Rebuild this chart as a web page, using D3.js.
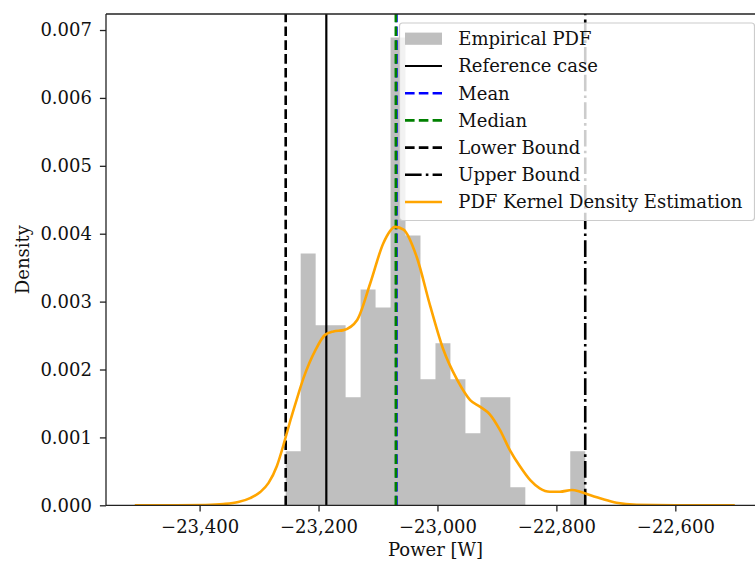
<!DOCTYPE html>
<html>
<head>
<meta charset="utf-8">
<script src="https://cdn.jsdelivr.net/npm/d3@7"></script>
<style>
  html, body { margin: 0; padding: 0; background: #fff; overflow: hidden; }
  svg { display: block; font-family: "DejaVu Serif", serif; }
</style>
</head>
<body>
<svg id="chart" width="755" height="563"></svg>
<script>
// Histogram of simulated power: 20 equal bins spanning [lowerBound, upperBound]
const histRange = [-23255.2, -22751.5];
const histDensity = [
  0.000795, 0.00371, 0.00265, 0.00265, 0.00159,
  0.00318, 0.002915, 0.00689, 0.003975, 0.001855,
  0.002385, 0.001855, 0.00106, 0.00159, 0.00159,
  0.000265, 0, 0, 0, 0.000795
];

// Reference lines (W)
const referenceCase = -23186.9;
const meanPower = -23069.0;
const medianPower = -23070.0;
const lowerBound = -23255.2;
const upperBound = -22751.5;

// Kernel density estimate: [power, density]
const kdePower = [
  -23509, -23440, -23390, -23360, -23335, -23315, -23298, -23284, -23270,
  -23256, -23247, -23237, -23225, -23205, -23189, -23175, -23158, -23135,
  -23113, -23091, -23071, -23057, -23035, -23012, -22990, -22967, -22945,
  -22928, -22912, -22895, -22878, -22861, -22844, -22828, -22811, -22794,
  -22774, -22760, -22744, -22721, -22699, -22665, -22600, -22500
];
const kdeDensity = [
  0, 0.000001, 0.000005, 0.000018, 0.000048, 0.000105, 0.000195, 0.00033, 0.00058,
  0.00098, 0.00126, 0.00155, 0.00188, 0.00229, 0.00251, 0.00256, 0.00258, 0.00273,
  0.00327, 0.00386, 0.00410, 0.00406, 0.00366, 0.00293, 0.00229, 0.00185, 0.00155,
  0.00145, 0.00134, 0.00111, 0.00081, 0.00057, 0.00037, 0.00025, 0.00020, 0.00020,
  0.000225, 0.00020, 0.000152, 0.000088, 0.000038, 0.000008, 0.0000005, 0
];

const xTicks = [-23400, -23200, -23000, -22800, -22600];
const yTicks = [0, 0.001, 0.002, 0.003, 0.004, 0.005, 0.006, 0.007];

const legendItems = [
  { label: "Empirical PDF", type: "patch", color: "#bfbfbf" },
  { label: "Reference case", type: "line", color: "#000000", dash: null, width: 2.2 },
  { label: "Mean", type: "line", color: "#0000ff", dash: "9.6,4.2", width: 2.6 },
  { label: "Median", type: "line", color: "#008000", dash: "9.6,4.2", width: 2.6 },
  { label: "Lower Bound", type: "line", color: "#000000", dash: "9.6,4.2", width: 2.6 },
  { label: "Upper Bound", type: "line", color: "#000000", dash: "16.6,4.2,2.6,4.2", width: 2.6 },
  { label: "PDF Kernel Density Estimation", type: "line", color: "#ffa500", dash: null, width: 2.6 }
];

// ---- layout ----
const width = 755;
const plot = { left: 106, right: 765, top: 14, bottom: 505.3 };
const fontSize = 18;

const svg = d3.select("#chart");

const x = d3.scaleLinear().domain([-23557.4, -22449.2]).range([plot.left, plot.right]);
const y = d3.scaleLinear().domain([0, 0.007236]).range([plot.bottom, plot.top]);

// data marks are clipped to the visible part of the plotting area
svg.append("defs").append("clipPath").attr("id", "plot-clip")
  .append("rect")
  .attr("x", plot.left).attr("y", 0)
  .attr("width", 750 - plot.left).attr("height", plot.bottom);
const marks = svg.append("g").attr("clip-path", "url(#plot-clip)");

// histogram bars, drawn as one path so neighbouring bars share edges cleanly
const nBins = histDensity.length;
const binW = (histRange[1] - histRange[0]) / nBins;
const bins = histDensity.map((d, i) => ({
  x0: histRange[0] + i * binW,
  x1: histRange[0] + (i + 1) * binW,
  d
}));
const barPath = d3.path();
bins.filter(b => b.d > 0).forEach(b => {
  barPath.rect(x(b.x0), y(b.d), x(b.x1) - x(b.x0), y(0) - y(b.d));
});
marks.append("path")
  .attr("d", barPath.toString())
  .attr("fill", "#bfbfbf");

// vertical marker lines (drawn bottom to top so dashes start at the axis)
const vlines = [
  { v: referenceCase, color: "#000000", dash: "none", width: 2.2 },
  { v: meanPower, color: "#0000ff", dash: "9.6,4.2", width: 2.6 },
  { v: medianPower, color: "#008000", dash: "9.6,4.2", width: 2.6 },
  { v: lowerBound, color: "#000000", dash: "9.6,4.2", width: 2.6 },
  { v: upperBound, color: "#000000", dash: "16.6,4.2,2.6,4.2", width: 2.6 }
];
marks.append("g")
  .selectAll("line")
  .data(vlines)
  .join("line")
  .attr("x1", d => x(d.v)).attr("x2", d => x(d.v))
  .attr("y1", plot.bottom).attr("y2", plot.top)
  .attr("stroke", d => d.color)
  .attr("stroke-width", d => d.width)
  .attr("stroke-dasharray", d => d.dash);

// KDE curve
const kde = kdePower.map((p, i) => [p, kdeDensity[i]]);
marks.append("path")
  .datum(kde)
  .attr("fill", "none")
  .attr("stroke", "#ffa500")
  .attr("stroke-width", 2.6)
  .attr("stroke-linejoin", "round")
  .attr("d", d3.line().x(d => x(d[0])).y(d => y(d[1])).curve(d3.curveMonotoneX));

// axes (tick marks and labels only; spines are drawn separately)
const xAxis = svg.append("g")
  .attr("transform", `translate(0,${plot.bottom})`)
  .call(d3.axisBottom(x).tickValues(xTicks).tickFormat(d3.format(",")).tickSizeOuter(0).tickSize(6.1).tickPadding(9));
const yAxis = svg.append("g")
  .attr("transform", `translate(${plot.left},0)`)
  .call(d3.axisLeft(y).tickValues(yTicks).tickFormat(d3.format(".3f")).tickSizeOuter(0).tickSize(6.1).tickPadding(8));

[xAxis, yAxis].forEach(g => {
  g.selectAll(".domain").remove();
  g.selectAll(".tick line").attr("stroke", "#222").attr("stroke-width", 1.3);
  g.selectAll(".tick text")
    .attr("font-family", "DejaVu Serif")
    .attr("font-size", fontSize)
    .attr("fill", "#111");
});

// spines: left, bottom, top; the frame runs on past the right edge of the page
const spineRight = Math.min(plot.right, width);
const spine = svg.append("g").attr("stroke", "#222").attr("stroke-width", 1.3).attr("fill", "none");
spine.append("line").attr("x1", plot.left).attr("x2", plot.left).attr("y1", plot.top).attr("y2", plot.bottom);
spine.append("line").attr("x1", plot.left).attr("x2", spineRight).attr("y1", plot.bottom).attr("y2", plot.bottom);
spine.append("line").attr("x1", plot.left).attr("x2", spineRight).attr("y1", plot.top).attr("y2", plot.top);

// axis labels
svg.append("text")
  .attr("x", (plot.left + plot.right) / 2)
  .attr("y", 556)
  .attr("text-anchor", "middle")
  .attr("font-size", fontSize)
  .attr("fill", "#111")
  .text("Power [W]");

svg.append("text")
  .attr("transform", `translate(29,${(plot.top + plot.bottom) / 2}) rotate(-90)`)
  .attr("text-anchor", "middle")
  .attr("font-size", fontSize)
  .attr("fill", "#111")
  .text("Density");

// legend
const lg = svg.append("g");
const lgBox = { x: 399.5, y: 23, w: 355, h: 197.5 };
lg.append("rect")
  .attr("x", lgBox.x).attr("y", lgBox.y)
  .attr("width", lgBox.w).attr("height", lgBox.h)
  .attr("rx", 3)
  .attr("fill", "#ffffff").attr("fill-opacity", 0.8)
  .attr("stroke", "#cccccc").attr("stroke-width", 1.2);

const rowY = i => 38.8 + i * 27.2;
const hx0 = 405, hx1 = 442, tx = 458.3;
legendItems.forEach((it, i) => {
  const cy = rowY(i);
  if (it.type === "patch") {
    lg.append("rect")
      .attr("x", hx0).attr("y", cy - 6.2)
      .attr("width", hx1 - hx0).attr("height", 12.2)
      .attr("fill", it.color);
  } else {
    lg.append("line")
      .attr("x1", hx0).attr("x2", hx1)
      .attr("y1", cy).attr("y2", cy)
      .attr("stroke", it.color)
      .attr("stroke-width", it.width)
      .attr("stroke-dasharray", it.dash || "none");
  }
  lg.append("text")
    .attr("x", tx).attr("y", cy)
    .attr("dy", "0.36em")
    .attr("font-size", fontSize)
    .attr("fill", "#111")
    .text(it.label);
});
</script>
</body>
</html>
